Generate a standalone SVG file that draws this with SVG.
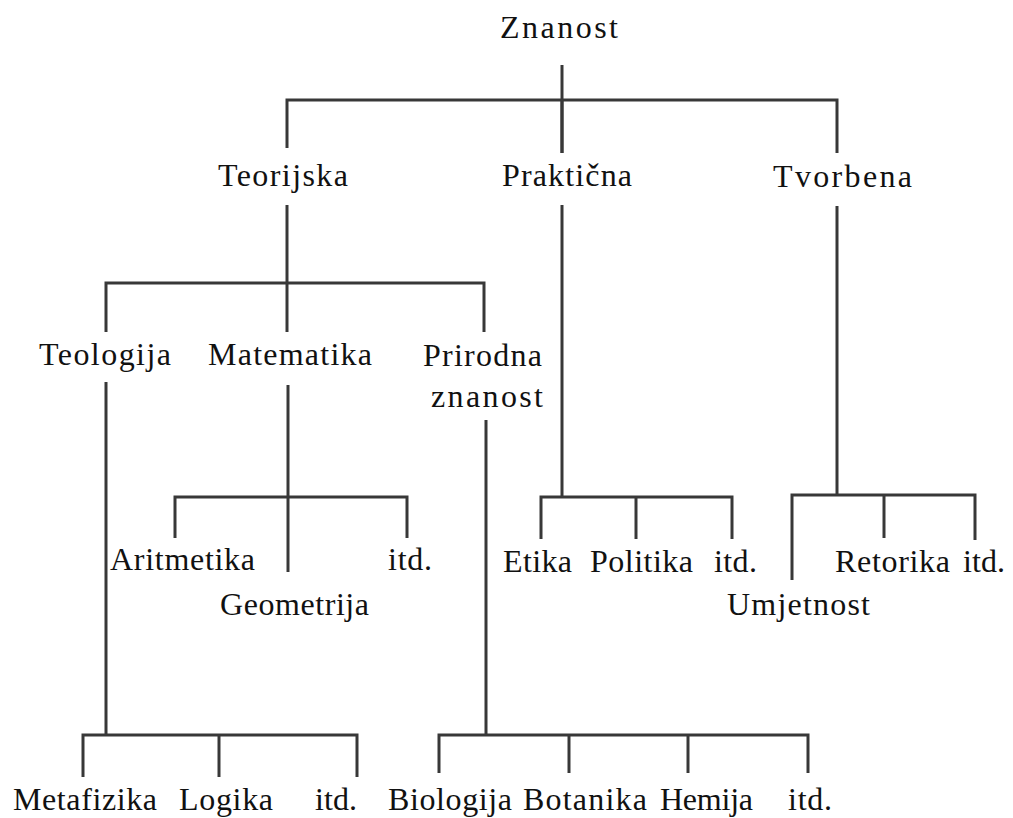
<svg xmlns="http://www.w3.org/2000/svg" width="1013" height="818" viewBox="0 0 1013 818">
<style>
.bg{fill:#ffffff}
.c path{fill:none;stroke:#383838;stroke-width:3;stroke-linejoin:miter}
text{font-family:"Liberation Serif","Times New Roman",serif;font-size:32px;fill:#111}
</style>
<rect class="bg" x="0" y="0" width="1013" height="818"/>
<g id="connectors" class="c">
<path d="M562 65 V153"/>
<path d="M287 148 V100 H837 V153"/>
<path d="M562 100 V153"/>
<path d="M287 205 V283"/>
<path d="M106 332 V283 H484 V332"/>
<path d="M287 283 V332"/>
<path d="M106 382 V735"/>
<path d="M83 777 V735 H357 V777"/>
<path d="M219 735 V777"/>
<path d="M288 385 V572"/>
<path d="M175 538 V497 H407 V538"/>
<path d="M486 420 V735"/>
<path d="M439 773 V735 H808 V773"/>
<path d="M569 735 V773"/>
<path d="M688 735 V773"/>
<path d="M562 205 V497"/>
<path d="M541 539 V497 H732 V539"/>
<path d="M636 497 V539"/>
<path d="M837 206 V495"/>
<path d="M792 580 V495 H975 V540"/>
<path d="M884 495 V538"/>
</g>
<g id="n-znanost"><text x="500" y="38" textLength="118" lengthAdjust="spacing">Znanost</text></g>
<g id="n-teorijska"><text x="218" y="186" textLength="130" lengthAdjust="spacing">Teorijska</text></g>
<g id="n-prakticna"><text x="502" y="186" textLength="130" lengthAdjust="spacing">Praktična</text></g>
<g id="n-tvorbena"><text x="773" y="187" textLength="139" lengthAdjust="spacing">Tvorbena</text></g>
<g id="n-teologija"><text x="39" y="365" textLength="132" lengthAdjust="spacing">Teologija</text></g>
<g id="n-matematika"><text x="208" y="365" textLength="164" lengthAdjust="spacing">Matematika</text></g>
<g id="n-prirodna"><text x="423" y="366" textLength="119" lengthAdjust="spacing">Prirodna</text><text x="431" y="407" textLength="112" lengthAdjust="spacing">znanost</text></g>
<g id="n-aritmetika"><text x="110" y="570" textLength="145" lengthAdjust="spacing">Aritmetika</text></g>
<g id="n-mat-itd"><text x="388" y="570" textLength="44" lengthAdjust="spacing">itd.</text></g>
<g id="n-geometrija"><text x="220" y="615" textLength="149" lengthAdjust="spacing">Geometrija</text></g>
<g id="n-etika"><text x="503" y="572" textLength="69" lengthAdjust="spacing">Etika</text></g>
<g id="n-politika"><text x="590" y="572" textLength="103" lengthAdjust="spacing">Politika</text></g>
<g id="n-prak-itd"><text x="714" y="572" textLength="43" lengthAdjust="spacing">itd.</text></g>
<g id="n-retorika"><text x="835" y="572" textLength="115" lengthAdjust="spacing">Retorika</text></g>
<g id="n-tvor-itd"><text x="963" y="572" textLength="42" lengthAdjust="spacing">itd.</text></g>
<g id="n-umjetnost"><text x="727" y="615" textLength="143" lengthAdjust="spacing">Umjetnost</text></g>
<g id="n-metafizika"><text x="13" y="810" textLength="144" lengthAdjust="spacing">Metafizika</text></g>
<g id="n-logika"><text x="179" y="810" textLength="94" lengthAdjust="spacing">Logika</text></g>
<g id="n-teo-itd"><text x="315" y="810" textLength="42" lengthAdjust="spacing">itd.</text></g>
<g id="n-biologija"><text x="388" y="810" textLength="124" lengthAdjust="spacing">Biologija</text></g>
<g id="n-botanika"><text x="523" y="810" textLength="124" lengthAdjust="spacing">Botanika</text></g>
<g id="n-hemija"><text x="660" y="810" textLength="93" lengthAdjust="spacing">Hemija</text></g>
<g id="n-pri-itd"><text x="788" y="810" textLength="44" lengthAdjust="spacing">itd.</text></g>
</svg>
